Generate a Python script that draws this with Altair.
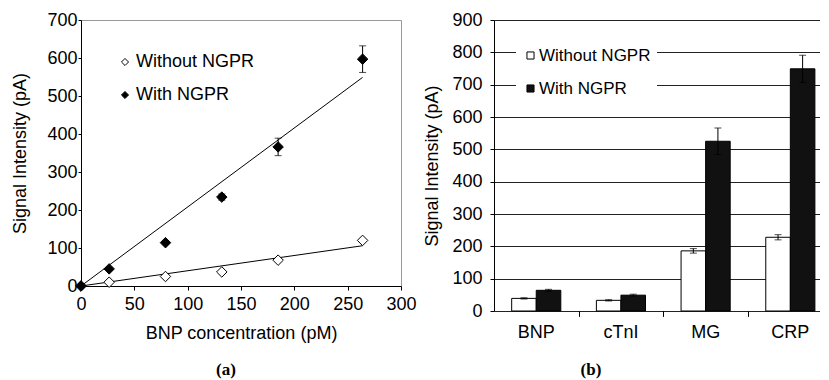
import altair as alt
import pandas as pd

# ---------------- data ----------------
conc = [0, 26.4, 79.2, 132, 184.8, 264]
without_ngpr = [0, 10, 25, 37, 68, 120]
with_ngpr = [0, 45, 114, 234, 366, 597]
with_err = [0, 3, 4, 8, 23, 35]
without_err = [0, 0, 0, 0, 0, 0]
fit_x = [0, 264]
fit_without = [0, 106]
fit_with = [0, 549]

markers = ["BNP", "cTnI", "MG", "CRP"]
bar_without = [39, 33, 186, 228]
bar_with = [64, 49, 525, 749]
err_without = [2, 2, 7, 8]
err_with = [3, 3, 41, 42]
series = ["Without NGPR", "With NGPR"]

x_ticks_a = [0, 50, 100, 150, 200, 250, 300]
y_ticks_a = [0, 100, 200, 300, 400, 500, 600, 700]
y_ticks_b = [0, 100, 200, 300, 400, 500, 600, 700, 800, 900]
x_tick_marks_b = ["BNP", "cTnI", "MG"]   # separator ticks drawn after these groups

FONT = "Liberation Sans"
SERIF = "Liberation Serif"

# ---------------- panel (a) ----------------
pts = pd.DataFrame({
    "conc": conc + conc,
    "signal": without_ngpr + with_ngpr,
    "err": without_err + with_err,
    "series": [series[0]] * len(conc) + [series[1]] * len(conc),
})
pts["lo"] = pts["signal"] - pts["err"]
pts["hi"] = pts["signal"] + pts["err"]
errs = pts[pts["err"] > 0]
fit = pd.DataFrame({
    "conc": fit_x + fit_x,
    "signal": fit_without + fit_with,
    "series": [series[0]] * 2 + [series[1]] * 2,
})

xs_a = alt.Scale(domain=[0, 300], nice=False)
ys_a = alt.Scale(domain=[0, 700], nice=False)
x_axis_a = alt.Axis(values=x_ticks_a, title="BNP concentration (pM)",
                    grid=False, tickSize=4, labelPadding=5, titlePadding=11,
                    labelFlush=False, labelOverlap=False,
                    labelFont=FONT, labelFontSize=18, labelColor="black",
                    titleFont=FONT, titleFontSize=18, titleFontWeight="normal", titleColor="black",
                    domainColor="black", tickColor="black")
y_axis_a = alt.Axis(values=y_ticks_a, title="Signal Intensity (pA)",
                    grid=False, tickSize=3, labelPadding=1, titlePadding=17,
                    labelFlush=False, labelOverlap=False,
                    labelFont=FONT, labelFontSize=18, labelColor="black",
                    titleFont=FONT, titleFontSize=18, titleFontWeight="normal", titleColor="black",
                    domainColor="black", tickColor="black")

X_a = lambda f: alt.X(f, type="quantitative", scale=xs_a, axis=x_axis_a)
Y_a = lambda f: alt.Y(f, type="quantitative", scale=ys_a, axis=y_axis_a)

lines_a = alt.Chart(fit).mark_line(color="black", strokeWidth=1).encode(
    x=X_a("conc"), y=Y_a("signal"), detail="series:N")
rule_a = alt.Chart(errs).mark_rule(color="black", strokeWidth=1).encode(
    x=X_a("conc"), y=Y_a("lo"), y2="hi:Q")
caphi_a = alt.Chart(errs).mark_tick(orient="horizontal", size=7, thickness=1, color="black").encode(
    x=X_a("conc"), y=Y_a("hi"))
caplo_a = alt.Chart(errs).mark_tick(orient="horizontal", size=7, thickness=1, color="black").encode(
    x=X_a("conc"), y=Y_a("lo"))
points_a = alt.Chart(pts).mark_point(shape="diamond", filled=True, size=110, stroke="black",
                                     strokeWidth=1, opacity=1).encode(
    x=X_a("conc"), y=Y_a("signal"),
    fill=alt.Fill("series:N", scale=alt.Scale(domain=series, range=["white", "black"]),
                  legend=alt.Legend(orient="none", legendX=35, legendY=33, title=None,
                                    symbolType="diamond", symbolSize=50,
                                    symbolStrokeColor="black", symbolStrokeWidth=1,
                                    labelFont=FONT, labelFontSize=18, labelColor="black",
                                    rowPadding=15, labelOffset=2, padding=0)),
)

panel_a = alt.layer(lines_a, rule_a, caphi_a, caplo_a, points_a).properties(
    width=320, height=266,
    view=alt.ViewBackground(stroke="#999999", strokeWidth=1),
    title=alt.Title("(a)", orient="bottom", font=SERIF, fontSize=17, fontWeight="bold",
                    color="black", offset=20, dx=-15),
)

# ---------------- panel (b) ----------------
bars = pd.DataFrame({
    "marker": markers + markers,
    "series": [series[0]] * 4 + [series[1]] * 4,
    "value": bar_without + bar_with,
    "err": err_without + err_with,
})
bars["lo"] = bars["value"] - bars["err"]
bars["hi"] = bars["value"] + bars["err"]

xs_b = alt.Scale(domain=markers, paddingInner=0.42, paddingOuter=0.1345, align=0.776)
xo_b = alt.Scale(domain=series, paddingInner=0, paddingOuter=0)
ys_b = alt.Scale(domain=[0, 900], nice=False)
x_axis_labels_b = alt.Axis(title=None, labelAngle=0, ticks=False, domain=False, labelPadding=12,
                           labelFont=FONT, labelFontSize=18, labelColor="black", orient="bottom")
x_axis_ticks_b = alt.Axis(title=None, labels=False, domain=False, values=x_tick_marks_b,
                          bandPosition=1, tickOffset=17.8, tickSize=5, tickColor="black",
                          orient="bottom")
y_axis_b = alt.Axis(values=y_ticks_b, title="Signal Intensity (pA)",
                    grid=True, gridColor="#222222", gridWidth=1, tickSize=4, labelPadding=8,
                    titlePadding=10, labelFlush=False, labelOverlap=False,
                    labelFont=FONT, labelFontSize=18, labelColor="black",
                    titleFont=FONT, titleFontSize=18, titleFontWeight="normal", titleColor="black",
                    domainColor="black", tickColor="black")

X_lab = alt.X("marker:N", scale=xs_b, axis=x_axis_labels_b, sort=markers)
X_tck = alt.X("marker:N", scale=xs_b, axis=x_axis_ticks_b, sort=markers)
XO_b = alt.XOffset("series:N", scale=xo_b, sort=series)
Y_b = lambda f: alt.Y(f, type="quantitative", scale=ys_b, axis=y_axis_b)

bar_layer = alt.Chart(bars).mark_bar(stroke="black", strokeWidth=1).encode(
    x=X_lab, xOffset=XO_b, y=Y_b("value"),
    fill=alt.Fill("series:N", scale=alt.Scale(domain=series, range=["white", "#111111"]),
                  legend=alt.Legend(orient="none", legendX=22, legendY=21, title=None,
                                    symbolType="square", symbolSize=50,
                                    symbolStrokeColor="black", symbolStrokeWidth=1,
                                    labelFont=FONT, labelFontSize=17, labelColor="black",
                                    rowPadding=15, labelOffset=0, padding=6,
                                    fillColor="white")),
)
rule_b = alt.Chart(bars).mark_rule(color="black", strokeWidth=1).encode(
    x=X_tck, xOffset=XO_b, y=Y_b("lo"), y2="hi:Q")
caphi_b = alt.Chart(bars).mark_tick(orient="horizontal", size=7, thickness=1, color="black").encode(
    x=X_tck, xOffset=XO_b, y=Y_b("hi"))
caplo_b = alt.Chart(bars).mark_tick(orient="horizontal", size=7, thickness=1, color="black").encode(
    x=X_tck, xOffset=XO_b, y=Y_b("lo"))

panel_b = alt.layer(bar_layer, rule_b, caphi_b, caplo_b).resolve_axis(
    x="independent"
).properties(
    width=326, height=291,
    view=alt.ViewBackground(stroke=None),
    title=alt.Title("(b)", orient="bottom", font=SERIF, fontSize=17, fontWeight="bold",
                    color="black", offset=21, dx=-66),
)

chart = alt.hconcat(panel_a, panel_b, spacing=93, bounds="flush").resolve_scale(
    fill="independent"
).resolve_legend(
    fill="independent"
).properties(
    padding={"left": 3, "top": 2, "right": 0, "bottom": 0},
)

chart.save("out.html", embed_options={"renderer": "svg", "actions": False})
